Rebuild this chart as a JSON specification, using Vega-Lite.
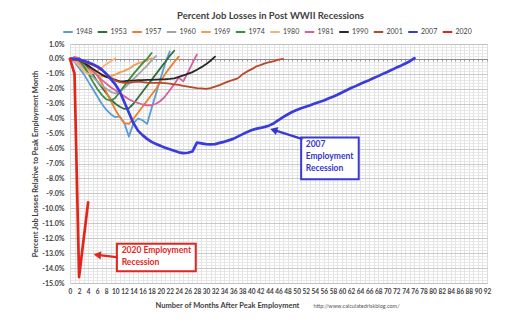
{
"$schema": "https://vega.github.io/schema/vega-lite/v6.json",
"width": 417, "height": 239,
"autosize": "none",
"padding": {"left": 70, "top": 44, "right": 45, "bottom": 43},
"background": "white",
"config": {"font": "Lato", "view": {"stroke": "#d4d4d4"}, "axis": {"labelFont": "Lato", "titleFont": "Lato"}, "legend": {"labelFont": "Lato"}},
"title": {"text": "Percent Job Losses in Post WWII Recessions", "fontSize": 9.5, "fontWeight": "bold", "color": "#404040", "anchor": "middle", "frame": "group", "dx": -8, "offset": 6},
"resolve": {"axis": {"x": "independent", "y": "independent"}},
"layer": [
{
"data": {"values": [
{"s":"1948","m":0,"v":0},{"s":"1948","m":1,"v":-0.2},{"s":"1948","m":2,"v":-0.6},{"s":"1948","m":3,"v":-1.0},{"s":"1948","m":4,"v":-1.5},{"s":"1948","m":5,"v":-2.0},{"s":"1948","m":6,"v":-2.5},{"s":"1948","m":7,"v":-3.0},{"s":"1948","m":8,"v":-3.4},{"s":"1948","m":9,"v":-3.7},{"s":"1948","m":10,"v":-3.9},{"s":"1948","m":11,"v":-3.85},{"s":"1948","m":12,"v":-4.3},{"s":"1948","m":13,"v":-5.2},{"s":"1948","m":14,"v":-4.3},{"s":"1948","m":15,"v":-4.0},{"s":"1948","m":16,"v":-4.1},{"s":"1948","m":17,"v":-4.35},{"s":"1948","m":18,"v":-3.3},{"s":"1948","m":19,"v":-2.3},{"s":"1948","m":20,"v":-1.3},{"s":"1948","m":21,"v":-0.3},{"s":"1948","m":22,"v":0.5},
{"s":"1953","m":0,"v":0},{"s":"1953","m":1,"v":0.1},{"s":"1953","m":2,"v":0.05},{"s":"1953","m":3,"v":-0.2},{"s":"1953","m":4,"v":-0.6},{"s":"1953","m":5,"v":-1.0},{"s":"1953","m":6,"v":-1.5},{"s":"1953","m":7,"v":-1.9},{"s":"1953","m":8,"v":-2.3},{"s":"1953","m":9,"v":-2.7},{"s":"1953","m":10,"v":-3.0},{"s":"1953","m":11,"v":-3.2},{"s":"1953","m":12,"v":-3.35},{"s":"1953","m":13,"v":-3.3},{"s":"1953","m":14,"v":-3.0},{"s":"1953","m":15,"v":-2.6},{"s":"1953","m":16,"v":-2.2},{"s":"1953","m":17,"v":-1.8},{"s":"1953","m":18,"v":-1.4},{"s":"1953","m":19,"v":-1.0},{"s":"1953","m":20,"v":-0.6},{"s":"1953","m":21,"v":-0.2},{"s":"1953","m":22,"v":0.2},{"s":"1953","m":23,"v":0.55},
{"s":"1957","m":0,"v":0},{"s":"1957","m":1,"v":0.05},{"s":"1957","m":2,"v":-0.05},{"s":"1957","m":3,"v":-0.2},{"s":"1957","m":4,"v":-0.4},{"s":"1957","m":5,"v":-0.7},{"s":"1957","m":6,"v":-1.1},{"s":"1957","m":7,"v":-1.6},{"s":"1957","m":8,"v":-2.2},{"s":"1957","m":9,"v":-2.8},{"s":"1957","m":10,"v":-3.4},{"s":"1957","m":11,"v":-3.9},{"s":"1957","m":12,"v":-4.3},{"s":"1957","m":13,"v":-4.35},{"s":"1957","m":14,"v":-4.0},{"s":"1957","m":15,"v":-3.6},{"s":"1957","m":16,"v":-3.2},{"s":"1957","m":17,"v":-2.8},{"s":"1957","m":18,"v":-2.4},{"s":"1957","m":19,"v":-2.0},{"s":"1957","m":20,"v":-1.5},{"s":"1957","m":21,"v":-1.0},{"s":"1957","m":22,"v":-0.6},{"s":"1957","m":23,"v":-0.2},{"s":"1957","m":24,"v":0.15},
{"s":"1960","m":0,"v":0},{"s":"1960","m":1,"v":-0.15},{"s":"1960","m":2,"v":-0.35},{"s":"1960","m":3,"v":-0.6},{"s":"1960","m":4,"v":-0.9},{"s":"1960","m":5,"v":-1.2},{"s":"1960","m":6,"v":-1.5},{"s":"1960","m":7,"v":-1.8},{"s":"1960","m":8,"v":-2.0},{"s":"1960","m":9,"v":-2.2},{"s":"1960","m":10,"v":-2.3},{"s":"1960","m":11,"v":-2.2},{"s":"1960","m":12,"v":-1.95},{"s":"1960","m":13,"v":-1.65},{"s":"1960","m":14,"v":-1.35},{"s":"1960","m":15,"v":-1.05},{"s":"1960","m":16,"v":-0.75},{"s":"1960","m":17,"v":-0.45},{"s":"1960","m":18,"v":-0.1},{"s":"1960","m":19,"v":0.2},
{"s":"1969","m":0,"v":0},{"s":"1969","m":1,"v":-0.1},{"s":"1969","m":2,"v":-0.25},{"s":"1969","m":3,"v":-0.45},{"s":"1969","m":4,"v":-0.7},{"s":"1969","m":5,"v":-0.9},{"s":"1969","m":6,"v":-1.05},{"s":"1969","m":7,"v":-1.15},{"s":"1969","m":8,"v":-1.2},{"s":"1969","m":9,"v":-1.15},{"s":"1969","m":10,"v":-1.05},{"s":"1969","m":11,"v":-0.9},{"s":"1969","m":12,"v":-0.8},{"s":"1969","m":13,"v":-0.65},{"s":"1969","m":14,"v":-0.45},{"s":"1969","m":15,"v":-0.3},{"s":"1969","m":16,"v":-0.2},{"s":"1969","m":17,"v":-0.1},{"s":"1969","m":18,"v":0.05},
{"s":"1974","m":0,"v":0},{"s":"1974","m":1,"v":0.05},{"s":"1974","m":2,"v":-0.1},{"s":"1974","m":3,"v":-0.45},{"s":"1974","m":4,"v":-0.95},{"s":"1974","m":5,"v":-1.5},{"s":"1974","m":6,"v":-2.0},{"s":"1974","m":7,"v":-2.4},{"s":"1974","m":8,"v":-2.7},{"s":"1974","m":9,"v":-2.8},{"s":"1974","m":10,"v":-2.6},{"s":"1974","m":11,"v":-2.2},{"s":"1974","m":12,"v":-1.8},{"s":"1974","m":13,"v":-1.4},{"s":"1974","m":14,"v":-1.0},{"s":"1974","m":15,"v":-0.65},{"s":"1974","m":16,"v":-0.3},{"s":"1974","m":17,"v":0.0},{"s":"1974","m":18,"v":0.4},
{"s":"1980","m":0,"v":0},{"s":"1980","m":1,"v":-0.15},{"s":"1980","m":2,"v":-0.45},{"s":"1980","m":3,"v":-0.8},{"s":"1980","m":4,"v":-1.0},{"s":"1980","m":5,"v":-0.95},{"s":"1980","m":6,"v":-0.8},{"s":"1980","m":7,"v":-0.6},{"s":"1980","m":8,"v":-0.35},{"s":"1980","m":9,"v":-0.15},{"s":"1980","m":10,"v":0.05},
{"s":"1981","m":0,"v":0},{"s":"1981","m":1,"v":0.1},{"s":"1981","m":2,"v":0.05},{"s":"1981","m":3,"v":-0.15},{"s":"1981","m":4,"v":-0.45},{"s":"1981","m":5,"v":-0.8},{"s":"1981","m":6,"v":-1.1},{"s":"1981","m":7,"v":-1.4},{"s":"1981","m":8,"v":-1.65},{"s":"1981","m":9,"v":-1.9},{"s":"1981","m":10,"v":-2.1},{"s":"1981","m":11,"v":-2.3},{"s":"1981","m":12,"v":-2.5},{"s":"1981","m":13,"v":-2.7},{"s":"1981","m":14,"v":-2.85},{"s":"1981","m":15,"v":-2.95},{"s":"1981","m":16,"v":-3.05},{"s":"1981","m":17,"v":-3.1},{"s":"1981","m":18,"v":-3.1},{"s":"1981","m":19,"v":-3.0},{"s":"1981","m":20,"v":-2.8},{"s":"1981","m":21,"v":-2.5},{"s":"1981","m":22,"v":-2.1},{"s":"1981","m":23,"v":-1.7},{"s":"1981","m":24,"v":-1.25},{"s":"1981","m":25,"v":-1.5},{"s":"1981","m":26,"v":-0.9},{"s":"1981","m":27,"v":-0.3},{"s":"1981","m":28,"v":0.3},
{"s":"1990","m":0,"v":0},{"s":"1990","m":1,"v":-0.05},{"s":"1990","m":2,"v":-0.1},{"s":"1990","m":3,"v":-0.25},{"s":"1990","m":4,"v":-0.45},{"s":"1990","m":5,"v":-0.65},{"s":"1990","m":6,"v":-0.85},{"s":"1990","m":7,"v":-1.05},{"s":"1990","m":8,"v":-1.2},{"s":"1990","m":9,"v":-1.3},{"s":"1990","m":10,"v":-1.4},{"s":"1990","m":11,"v":-1.5},{"s":"1990","m":12,"v":-1.48},{"s":"1990","m":13,"v":-1.45},{"s":"1990","m":14,"v":-1.45},{"s":"1990","m":15,"v":-1.42},{"s":"1990","m":16,"v":-1.42},{"s":"1990","m":17,"v":-1.4},{"s":"1990","m":18,"v":-1.4},{"s":"1990","m":19,"v":-1.38},{"s":"1990","m":20,"v":-1.37},{"s":"1990","m":21,"v":-1.36},{"s":"1990","m":22,"v":-1.34},{"s":"1990","m":23,"v":-1.3},{"s":"1990","m":24,"v":-1.2},{"s":"1990","m":25,"v":-1.1},{"s":"1990","m":26,"v":-1.0},{"s":"1990","m":27,"v":-0.88},{"s":"1990","m":28,"v":-0.72},{"s":"1990","m":29,"v":-0.55},{"s":"1990","m":30,"v":-0.35},{"s":"1990","m":31,"v":-0.12},{"s":"1990","m":32,"v":0.15},
{"s":"2001","m":0,"v":0},{"s":"2001","m":1,"v":-0.05},{"s":"2001","m":2,"v":-0.1},{"s":"2001","m":3,"v":-0.2},{"s":"2001","m":4,"v":-0.3},{"s":"2001","m":5,"v":-0.4},{"s":"2001","m":6,"v":-0.55},{"s":"2001","m":7,"v":-0.75},{"s":"2001","m":8,"v":-1.0},{"s":"2001","m":9,"v":-1.25},{"s":"2001","m":10,"v":-1.45},{"s":"2001","m":11,"v":-1.55},{"s":"2001","m":12,"v":-1.6},{"s":"2001","m":13,"v":-1.6},{"s":"2001","m":14,"v":-1.55},{"s":"2001","m":15,"v":-1.52},{"s":"2001","m":16,"v":-1.55},{"s":"2001","m":17,"v":-1.58},{"s":"2001","m":18,"v":-1.6},{"s":"2001","m":19,"v":-1.6},{"s":"2001","m":20,"v":-1.6},{"s":"2001","m":21,"v":-1.62},{"s":"2001","m":22,"v":-1.65},{"s":"2001","m":23,"v":-1.7},{"s":"2001","m":24,"v":-1.74},{"s":"2001","m":25,"v":-1.8},{"s":"2001","m":26,"v":-1.85},{"s":"2001","m":27,"v":-1.9},{"s":"2001","m":28,"v":-1.95},{"s":"2001","m":29,"v":-1.97},{"s":"2001","m":30,"v":-2.0},{"s":"2001","m":31,"v":-1.95},{"s":"2001","m":32,"v":-1.85},{"s":"2001","m":33,"v":-1.75},{"s":"2001","m":34,"v":-1.62},{"s":"2001","m":35,"v":-1.5},{"s":"2001","m":36,"v":-1.4},{"s":"2001","m":37,"v":-1.3},{"s":"2001","m":38,"v":-1.05},{"s":"2001","m":39,"v":-0.85},{"s":"2001","m":40,"v":-0.7},{"s":"2001","m":41,"v":-0.52},{"s":"2001","m":42,"v":-0.42},{"s":"2001","m":43,"v":-0.3},{"s":"2001","m":44,"v":-0.22},{"s":"2001","m":45,"v":-0.15},{"s":"2001","m":46,"v":-0.05},{"s":"2001","m":47,"v":0.0},
{"s":"2007","m":0,"v":0},{"s":"2007","m":1,"v":-0.01},{"s":"2007","m":2,"v":-0.05},{"s":"2007","m":3,"v":-0.12},{"s":"2007","m":4,"v":-0.22},{"s":"2007","m":5,"v":-0.35},{"s":"2007","m":6,"v":-0.5},{"s":"2007","m":7,"v":-0.7},{"s":"2007","m":8,"v":-1.0},{"s":"2007","m":9,"v":-1.35},{"s":"2007","m":10,"v":-1.7},{"s":"2007","m":11,"v":-2.2},{"s":"2007","m":12,"v":-2.9},{"s":"2007","m":13,"v":-3.6},{"s":"2007","m":14,"v":-4.3},{"s":"2007","m":15,"v":-4.8},{"s":"2007","m":16,"v":-5.1},{"s":"2007","m":17,"v":-5.35},{"s":"2007","m":18,"v":-5.55},{"s":"2007","m":19,"v":-5.7},{"s":"2007","m":20,"v":-5.82},{"s":"2007","m":21,"v":-5.95},{"s":"2007","m":22,"v":-6.05},{"s":"2007","m":23,"v":-6.15},{"s":"2007","m":24,"v":-6.25},{"s":"2007","m":25,"v":-6.3},{"s":"2007","m":26,"v":-6.28},{"s":"2007","m":27,"v":-6.2},{"s":"2007","m":28,"v":-5.6},{"s":"2007","m":29,"v":-5.65},{"s":"2007","m":30,"v":-5.7},{"s":"2007","m":31,"v":-5.72},{"s":"2007","m":32,"v":-5.7},{"s":"2007","m":33,"v":-5.62},{"s":"2007","m":34,"v":-5.55},{"s":"2007","m":35,"v":-5.45},{"s":"2007","m":36,"v":-5.35},{"s":"2007","m":37,"v":-5.2},{"s":"2007","m":38,"v":-5.05},{"s":"2007","m":39,"v":-4.9},{"s":"2007","m":40,"v":-4.78},{"s":"2007","m":41,"v":-4.68},{"s":"2007","m":42,"v":-4.62},{"s":"2007","m":43,"v":-4.55},{"s":"2007","m":44,"v":-4.45},{"s":"2007","m":45,"v":-4.3},{"s":"2007","m":46,"v":-4.1},{"s":"2007","m":47,"v":-3.9},{"s":"2007","m":48,"v":-3.72},{"s":"2007","m":49,"v":-3.55},{"s":"2007","m":50,"v":-3.42},{"s":"2007","m":51,"v":-3.3},{"s":"2007","m":52,"v":-3.2},{"s":"2007","m":53,"v":-3.1},{"s":"2007","m":54,"v":-2.98},{"s":"2007","m":55,"v":-2.88},{"s":"2007","m":56,"v":-2.78},{"s":"2007","m":57,"v":-2.65},{"s":"2007","m":58,"v":-2.53},{"s":"2007","m":59,"v":-2.4},{"s":"2007","m":60,"v":-2.25},{"s":"2007","m":61,"v":-2.1},{"s":"2007","m":62,"v":-1.95},{"s":"2007","m":63,"v":-1.82},{"s":"2007","m":64,"v":-1.68},{"s":"2007","m":65,"v":-1.55},{"s":"2007","m":66,"v":-1.42},{"s":"2007","m":67,"v":-1.28},{"s":"2007","m":68,"v":-1.15},{"s":"2007","m":69,"v":-1.0},{"s":"2007","m":70,"v":-0.87},{"s":"2007","m":71,"v":-0.73},{"s":"2007","m":72,"v":-0.58},{"s":"2007","m":73,"v":-0.45},{"s":"2007","m":74,"v":-0.3},{"s":"2007","m":75,"v":-0.15},{"s":"2007","m":76,"v":0.05},
{"s":"2020","m":0,"v":0},{"s":"2020","m":1,"v":-1.0},{"s":"2020","m":2,"v":-14.6},{"s":"2020","m":3,"v":-12.1},{"s":"2020","m":4,"v":-9.6}
]},
"mark": {"type": "line", "strokeJoin": "round", "strokeCap": "round"},
"encoding": {
"x": {"field": "m", "type": "quantitative", "scale": {"domain": [0, 92], "nice": false, "zero": false},
"axis": {"orient": "bottom", "values": [0,1,2,3,4,5,6,7,8,9,10,11,12,13,14,15,16,17,18,19,20,21,22,23,24,25,26,27,28,29,30,31,32,33,34,35,36,37,38,39,40,41,42,43,44,45,46,47,48,49,50,51,52,53,54,55,56,57,58,59,60,61,62,63,64,65,66,67,68,69,70,71,72,73,74,75,76,77,78,79,80,81,82,83,84,85,86,87,88,89,90,91,92],
"labelExpr": "datum.value % 2 === 0 ? datum.label : ''", "labelFontSize": 6.5, "labelFontWeight": "bold", "labelColor": "#404040", "labelPadding": 5, "labelOverlap": false, "labelFlush": false, "labelBound": false,
"ticks": false, "domain": false, "grid": true, "gridColor": "#dedede", "gridWidth": 0.8, "gridOpacity": 1,
"title": "Number of Months After Peak Employment", "titleFontSize": 7.5, "titleFontWeight": "bold", "titleColor": "#404040", "titleX": 157, "titleY": 22, "titleBaseline": "middle", "titleAlign": "center"}},
"y": {"field": "v", "type": "quantitative", "scale": {"domain": [-15, 1], "nice": false, "zero": false},
"axis": {"values": [-15,-14.8,-14.6,-14.4,-14.2,-14,-13.8,-13.6,-13.4,-13.2,-13,-12.8,-12.6,-12.4,-12.2,-12,-11.8,-11.6,-11.4,-11.2,-11,-10.8,-10.6,-10.4,-10.2,-10,-9.8,-9.6,-9.4,-9.2,-9,-8.8,-8.6,-8.4,-8.2,-8,-7.8,-7.6,-7.4,-7.2,-7,-6.8,-6.6,-6.4,-6.2,-6,-5.8,-5.6,-5.4,-5.2,-5,-4.8,-4.6,-4.4,-4.2,-4,-3.8,-3.6,-3.4,-3.2,-3,-2.8,-2.6,-2.4,-2.2,-2,-1.8,-1.6,-1.4,-1.2,-1,-0.8,-0.6,-0.4,-0.2,0,0.2,0.4,0.6,0.8,1],
"labelExpr": "abs(datum.value - round(datum.value)) < 0.01 ? (datum.value < -0.001 ? '-' : '') + format(abs(datum.value), '.1f') + '%' : ''",
"labelFontSize": 7, "labelFontWeight": "bold", "labelColor": "#404040", "labelPadding": 6, "labelOverlap": false, "labelFlush": false, "labelBound": false,
"ticks": false, "domain": false, "grid": true, "gridOpacity": 1,
"gridColor": {"condition": {"test": "abs(datum.value - round(datum.value)) < 0.01", "value": "#bdbdbd"}, "value": "#e3e3e3"},
"gridWidth": 0.8,
"title": "Percent Job Losses Relative to Peak Employment Month", "titleFontSize": 7.5, "titleFontWeight": "bold", "titleColor": "#404040", "titlePadding": 2}},
"color": {"field": "s", "type": "nominal",
"scale": {"domain": ["1948","1953","1957","1960","1969","1974","1980","1981","1990","2001","2007","2020"],
"range": ["#5b9bd5","#2f6f3a","#ed7d31","#a5a5a5","#f59d56","#3c8d3f","#f7b27a","#d6609c","#262626","#b9472b","#3b3bdb","#e3241b"]},
"legend": {"orient": "none", "legendX": -8, "legendY": -18, "direction": "horizontal", "columns": 12, "title": null, "symbolType": "stroke", "symbolSize": 90, "symbolStrokeWidth": 2, "labelFontSize": 7, "labelColor": "#404040", "columnPadding": 0.5, "labelOffset": 2}},
"strokeWidth": {"condition": {"test": "datum.s === '2007' || datum.s === '2020'", "value": 2.7}, "value": 1.8}
}
},
{
"data": {"values": [{"c": "2007", "x1": 51.0, "x2": 63.7, "y1": -5.26, "y2": -8.05}, {"c": "2020", "x1": 10.35, "x2": 27.75, "y1": -12.38, "y2": -14.22}]},
"mark": {"type": "rect", "fill": "white", "strokeWidth": 2},
"encoding": {
"x": {"field": "x1", "type": "quantitative",
"axis": {"orient": "bottom", "offset": -224, "values": [0,1,2,3,4,5,6,7,8,9,10,11,12,13,14,15,16,17,18,19,20,21,22,23,24,25,26,27,28,29,30,31,32,33,34,35,36,37,38,39,40,41,42,43,44,45,46,47,48,49,50,51,52,53,54,55,56,57,58,59,60,61,62,63,64,65,66,67,68,69,70,71,72,73,74,75,76,77,78,79,80,81,82,83,84,85,86,87,88,89,90,91,92],
"labels": false, "grid": false, "domain": true, "domainColor": "#8c8c8c", "domainWidth": 1, "ticks": true, "tickSize": 2, "tickColor": "#8c8c8c", "tickWidth": 0.8,
"title": "http://www.calculatedriskblog.com/", "titleFontSize": 5.5, "titleFontWeight": "normal", "titleColor": "#555555", "titleX": 286, "titleY": 246, "titleBaseline": "middle", "titleAlign": "center"}},
"x2": {"field": "x2"},
"y": {"field": "y1", "type": "quantitative", "axis": null},
"y2": {"field": "y2"},
"stroke": {"field": "c", "type": "nominal", "scale": {"domain": ["2007", "2020"], "range": ["#3a3ad0", "#e0261f"]}, "legend": null}
}
},
{
"data": {"values": [{"c": "2007", "x": 51.3, "y": -5.37, "x2": 44.9, "y2": -4.75}, {"c": "2020", "x": 10.28, "y": -13.27, "x2": 6.0, "y2": -13.12}]},
"mark": {"type": "rule", "strokeWidth": 2.2},
"encoding": {
"x": {"field": "x", "type": "quantitative", "axis": null},
"y": {"field": "y", "type": "quantitative", "axis": null},
"x2": {"field": "x2"},
"y2": {"field": "y2"},
"stroke": {"field": "c", "type": "nominal", "legend": null}
}
},
{
"data": {"values": [{"c": "2007", "x": 45.2, "y": -4.78, "a": 287}, {"c": "2020", "x": 6.3, "y": -13.13, "a": 276}]},
"mark": {"type": "point", "filled": true, "shape": "triangle", "size": 70, "opacity": 1},
"encoding": {
"x": {"field": "x", "type": "quantitative", "axis": null},
"y": {"field": "y", "type": "quantitative", "axis": null},
"angle": {"field": "a", "type": "quantitative", "scale": null},
"fill": {"field": "c", "type": "nominal", "scale": {"domain": ["2007", "2020"], "range": ["#3535c8", "#e0261f"]}, "legend": null}
}
},
{
"data": {"values": [{"c": "2007", "x": 52.0, "y": -5.4, "t": "2007\nEmployment\nRecession"}, {"c": "2020", "x": 11.4, "y": -12.55, "t": "2020 Employment\nRecession"}]},
"mark": {"type": "text", "align": "left", "baseline": "top", "fontSize": 8.5, "fontWeight": "bold", "lineBreak": "\n", "lineHeight": 12, "font": "Lato"},
"encoding": {
"x": {"field": "x", "type": "quantitative", "axis": null},
"y": {"field": "y", "type": "quantitative", "axis": null},
"text": {"field": "t"},
"fill": {"field": "c", "type": "nominal", "legend": null}
}
}
]
}
